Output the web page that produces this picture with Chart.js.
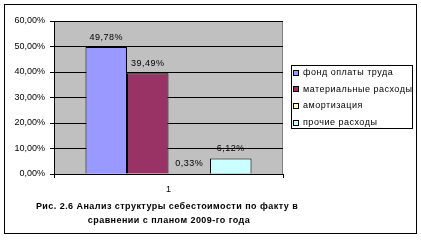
<!DOCTYPE html>
<html>
<head>
<meta charset="utf-8">
<script src="https://cdn.jsdelivr.net/npm/chart.js@4.4.0/dist/chart.umd.min.js"></script>
<style>
html, body { margin: 0; padding: 0; background: #fff; }
</style>
</head>
<body>
<canvas id="myChart" width="421" height="240"></canvas>
<script>
var categories = ["1"];
var series_names = ["фонд оплаты труда", "материальные расходы", "амортизация", "прочие расходы"];
var series_values = [49.78, 39.49, 0.33, 6.12];
var series_colors = ['#9999FF', '#993366', '#FFFFCC', '#CCFFFF'];
var y_ticks = [0, 10, 20, 30, 40, 50, 60];
var caption = ["Рис. 2.6 Анализ структуры себестоимости по факту в", "сравнении с планом 2009-го года"];

var font_name = "'Liberation Sans', Arial, sans-serif";

function pct(v) {
    return v.toFixed(2).replace('.', ',') + '%';
}

var datasets = [];
for (var i = 0; i < series_names.length; i++) {
    datasets.push({
        label: series_names[i],
        data: [series_values[i]],
        backgroundColor: series_colors[i],
        borderColor: '#000',
        borderWidth: 1,
        barPercentage: 1,
        categoryPercentage: 0.725
    });
}

// white page, outer frame and grey plot area
var framePlugin = {
    id: 'frame',
    beforeDraw: function(chart) {
        var c = chart.ctx;
        var a = chart.chartArea;
        c.save();
        c.fillStyle = '#fff';
        c.fillRect(0, 0, chart.width, chart.height);
        c.fillStyle = '#C0C0C0';
        c.fillRect(a.left, a.top, a.right - a.left, a.bottom - a.top);
        c.strokeStyle = '#808080';
        c.lineWidth = 1;
        c.beginPath();
        c.moveTo(Math.round(a.right) - 0.5, a.top);
        c.lineTo(Math.round(a.right) - 0.5, a.bottom);
        c.stroke();
        c.strokeStyle = '#000';
        c.strokeRect(4.5, 4.5, 412, 229);
        c.restore();
    }
};

// value labels over the bars
var labelPlugin = {
    id: 'barLabels',
    afterDatasetsDraw: function(chart) {
        var c = chart.ctx;
        c.save();
        c.font = '9px ' + font_name;
        c.letterSpacing = '0.5px';
        c.fillStyle = '#000';
        c.textAlign = 'center';
        c.textBaseline = 'middle';
        chart.data.datasets.forEach(function(ds, i) {
            var bar = chart.getDatasetMeta(i).data[0];
            c.fillText(pct(ds.data[0]), bar.x, bar.y - 10);
        });
        c.restore();
    }
};

// legend box on the right and caption under the chart
var legendPlugin = {
    id: 'sideLegend',
    afterDraw: function(chart) {
        var c = chart.ctx;
        c.save();
        c.fillStyle = '#fff';
        c.fillRect(291, 65, 122, 64);
        c.strokeStyle = '#000';
        c.lineWidth = 1;
        c.strokeRect(291.5, 65.5, 121, 63);
        c.font = '9px ' + font_name;
        c.letterSpacing = '0.5px';
        c.textBaseline = 'middle';
        c.textAlign = 'left';
        chart.data.datasets.forEach(function(ds, i) {
            var y = 72.5 + i * 16.7;
            var top = Math.round(y - 3);
            c.fillStyle = ds.backgroundColor;
            c.fillRect(293, top, 6, 6);
            c.strokeStyle = '#000';
            c.strokeRect(293.5, top + 0.5, 5, 5);
            c.fillStyle = '#000';
            c.fillText(ds.label, 303, y);
        });
        c.font = 'bold 9px ' + font_name;
        c.letterSpacing = '0.45px';
        c.textAlign = 'center';
        c.fillText(caption[0], 167, 207);
        c.fillText(caption[1], 169, 221);
        c.restore();
    }
};

var ctx = document.getElementById("myChart");
var myBarChart = new Chart(ctx, {
    type: 'bar',
    data: {
        labels: categories,
        datasets: datasets
    },
    options: {
        responsive: false,
        animation: false,
        devicePixelRatio: 1,
        layout: {
            padding: { left: 0, right: 138, top: 21, bottom: 0 }
        },
        plugins: {
            legend: { display: false },
            title: { display: false },
            tooltip: { enabled: false }
        },
        scales: {
            x: {
                grid: {
                    offset: true,
                    drawOnChartArea: false,
                    color: '#000',
                    tickLength: 4
                },
                border: { color: '#000' },
                ticks: {
                    color: '#000',
                    font: { family: font_name, size: 9 },
                    padding: 6
                },
                afterFit: function(scale) { scale.height = 66; }
            },
            y: {
                min: 0,
                max: 60,
                afterBuildTicks: function(scale) {
                    scale.ticks = y_ticks.map(function(v) { return { value: v }; });
                },
                grid: {
                    color: '#000',
                    tickLength: 4
                },
                border: { color: '#000' },
                ticks: {
                    color: '#000',
                    font: { family: font_name, size: 9 },
                    padding: 5,
                    callback: function(v) { return pct(v); }
                },
                afterFit: function(scale) { scale.width = 54; }
            }
        }
    },
    plugins: [framePlugin, labelPlugin, legendPlugin]
});
</script>
</body>
</html>
